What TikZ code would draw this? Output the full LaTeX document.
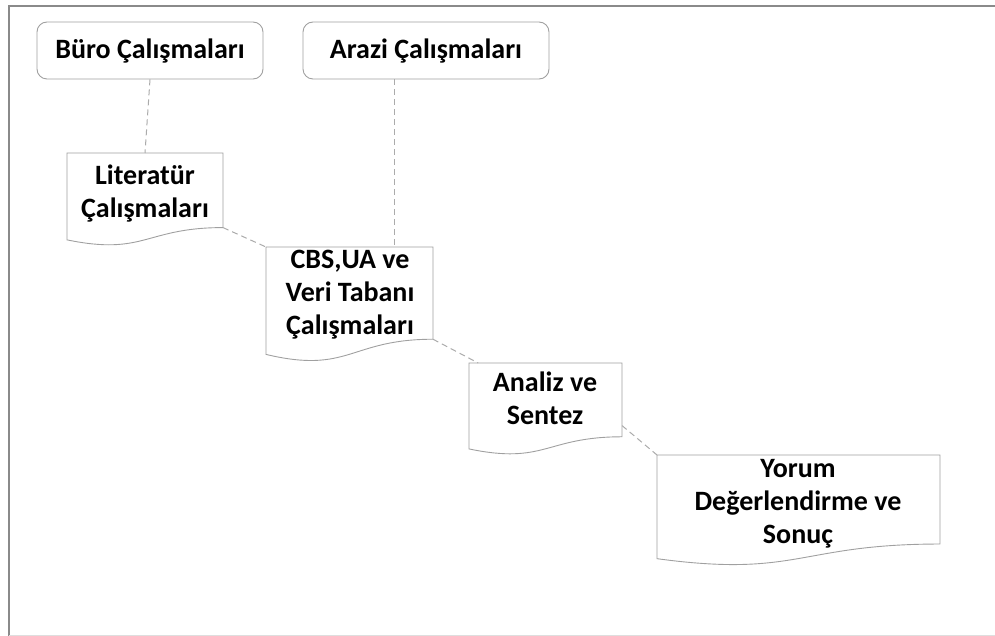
\documentclass[tikz,border=0pt]{standalone}
\usepackage{fontspec}
\setmainfont{Carlito}
\usetikzlibrary{calc}
\definecolor{frameg}{HTML}{8A8A8A}
\definecolor{boxg}{HTML}{A0A0A0}
\definecolor{dashg}{HTML}{ABABAB}
\tikzset{
  topbox/.style={draw=boxg, line width=0.9pt, rounded corners=10pt, inner sep=0pt},
  docarea/.style={inner sep=0pt, outer sep=0pt},
  docline/.style={draw=boxg, line width=0.9pt},
  lbl/.style={font=\fontsize{28}{33}\selectfont\bfseries, align=center, inner sep=0pt, anchor=base},
  link/.style={draw=dashg, line width=1pt, dash pattern=on 6pt off 4pt},
}
\newcommand\mkdoc[1]{%
  \draw[docline] (#1.north west) -- (#1.north east)
    -- ($(#1.north east)!0.802!(#1.south east)$)
    .. controls ($(#1.north)!0.802!(#1.south)$) and ($(#1.north)!1.107!(#1.south)$)
    .. ($(#1.north west)!0.934!(#1.south west)$) -- cycle;
  \coordinate (#1-rb) at ($(#1.north east)!0.802!(#1.south east)$);
}
\begin{document}
\begin{tikzpicture}[x=1pt, y=-1pt]
\useasboundingbox (0,0) rectangle (995,636);
% frame
\coordinate (f1) at (995,6);
\coordinate (f2) at (9,6);
\coordinate (f3) at (9,636);
\draw[frameg, line width=2.6pt] (f1) -- (f2) -- (f3);
\draw[black!13, line width=1pt] (9,635) -- (995,635);
% top boxes
\node[topbox, minimum width=226pt, minimum height=57pt] (buro) at (150,50.5) {};
\node[lbl] (buroT) at (150,59) {Büro Çalışmaları};
\node[topbox, minimum width=246pt, minimum height=57pt] (arazi) at (426,50.5) {};
\node[lbl] (araziT) at (426,59) {Arazi Çalışmaları};
% document shapes
\node[docarea, minimum width=156pt, minimum height=93pt] (lit) at (145,199.5) {};
\mkdoc{lit}
\node[lbl] (litT) at (145,217.5) {Literatür\\Çalışmaları};
\node[docarea, minimum width=167pt, minimum height=115pt] (cbs) at (349.5,304.5) {};
\mkdoc{cbs}
\node[lbl] (cbsT) at (350,334.5) {CBS,UA ve\\Veri Tabanı\\Çalışmaları};
\node[docarea, minimum width=153pt, minimum height=92pt] (ana) at (545.5,409) {};
\mkdoc{ana}
\node[lbl] (anaT) at (545,424.5) {Analiz ve\\Sentez};
\node[docarea, minimum width=283pt, minimum height=111pt] (yor) at (798.5,510.5) {};
\mkdoc{yor}
\node[lbl] (yorT) at (798,543.5) {Yorum\\Değerlendirme ve\\Sonuç};
% connectors
\coordinate (ax) at (394,0);
\draw[link] (buro.south) -- (lit.north);
\draw[link] (arazi.south -| ax) -- (cbs.north -| ax);
\draw[link] (lit-rb) -- (cbs.north west);
\draw[link] (cbs-rb) -- ($(ana.north west)!0.06!(ana.north east)$);
\draw[link] ($(ana.north east)!0.68!(ana.south east)$) -- (yor.north west);
\end{tikzpicture}
\end{document}
